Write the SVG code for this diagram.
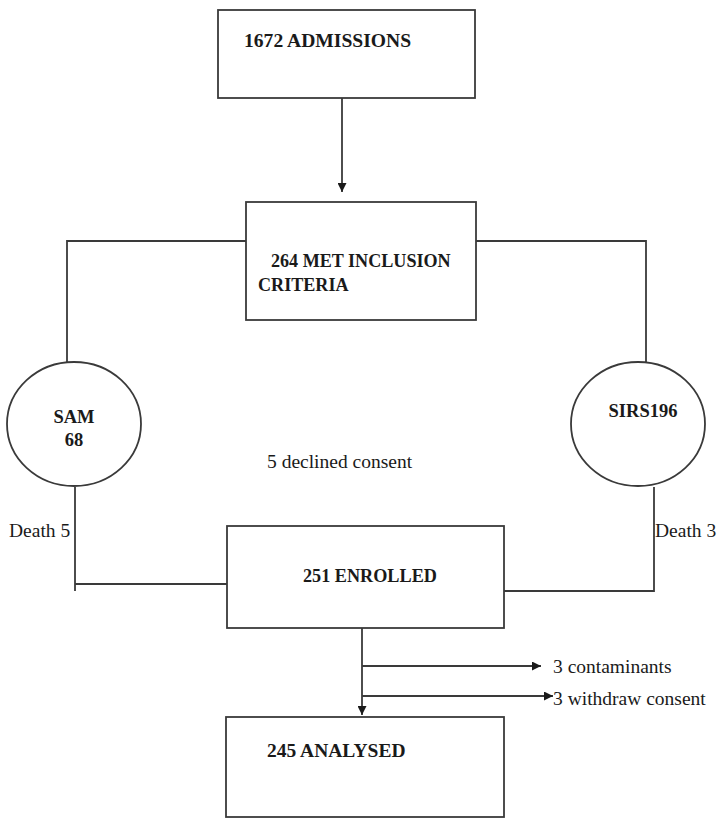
<svg xmlns="http://www.w3.org/2000/svg" width="717" height="818" viewBox="0 0 717 818">
<style>
.box{fill:#fff;stroke:#3a3a3a;stroke-width:1.8}
.ln{fill:none;stroke:#3a3a3a;stroke-width:1.8}
.b{font-family:"Liberation Serif","Times New Roman",serif;font-weight:bold;font-size:18.5px;fill:#1a1a1a}
.r{font-family:"Liberation Serif","Times New Roman",serif;font-size:19.5px;fill:#1a1a1a}
</style>
<defs>
<marker id="ah" viewBox="0 0 10 10" refX="10" refY="5" markerWidth="9" markerHeight="9" markerUnits="userSpaceOnUse" orient="auto">
<path d="M0,0 L10,5 L0,10 z" fill="#1a1a1a"/>
</marker>
</defs>
<rect width="717" height="818" fill="#fff"/>
<g id="connectors">
<path class="ln" d="M342,98 V192" marker-end="url(#ah)"/>
<path class="ln" d="M246,241 H67 V362"/>
<path class="ln" d="M476,241 H646 V362"/>
<path class="ln" d="M75,487 V591 M75,584 H227"/>
<path class="ln" d="M654,487 V591 H504"/>
<path class="ln" d="M362,628 V715" marker-end="url(#ah)"/>
<path class="ln" d="M362,666 H541" marker-end="url(#ah)"/>
<path class="ln" d="M362,696 H553" marker-end="url(#ah)"/>
</g>
<g id="admissions">
<rect class="box" x="218" y="10" width="257" height="88"/>
<text class="b" x="244" y="47" style="font-size:19.6px">1672 ADMISSIONS</text>
</g>
<g id="inclusion">
<rect class="box" x="246" y="202" width="230" height="118"/>
<text class="b" x="271" y="267" style="font-size:18.1px">264 MET INCLUSION</text>
<text class="b" x="258" y="291" style="font-size:18.1px">CRITERIA</text>
</g>
<g id="sam">
<ellipse class="box" cx="74" cy="424" rx="67" ry="62"/>
<text class="b" x="74" y="423" text-anchor="middle">SAM</text>
<text class="b" x="74" y="446" text-anchor="middle">68</text>
</g>
<g id="sirs">
<ellipse class="box" cx="638" cy="424" rx="67" ry="62"/>
<text class="b" x="643" y="417" text-anchor="middle">SIRS196</text>
</g>
<g id="declined">
<text class="r" x="267" y="468">5 declined consent</text>
</g>
<g id="death5">
<text class="r" x="9" y="537">Death 5</text>
</g>
<g id="death3">
<text class="r" x="655" y="537">Death 3</text>
</g>
<g id="enrolled">
<rect class="box" x="227" y="526" width="277" height="102"/>
<text class="b" x="303" y="582" style="font-size:18.2px">251 ENROLLED</text>
</g>
<g id="contaminants">
<text class="r" x="553" y="673">3 contaminants</text>
</g>
<g id="withdraw">
<text class="r" x="553" y="705">3 withdraw consent</text>
</g>
<g id="analysed">
<rect class="box" x="226" y="717" width="278" height="100"/>
<text class="b" x="267" y="757" style="font-size:19.5px">245 ANALYSED</text>
</g>
</svg>
